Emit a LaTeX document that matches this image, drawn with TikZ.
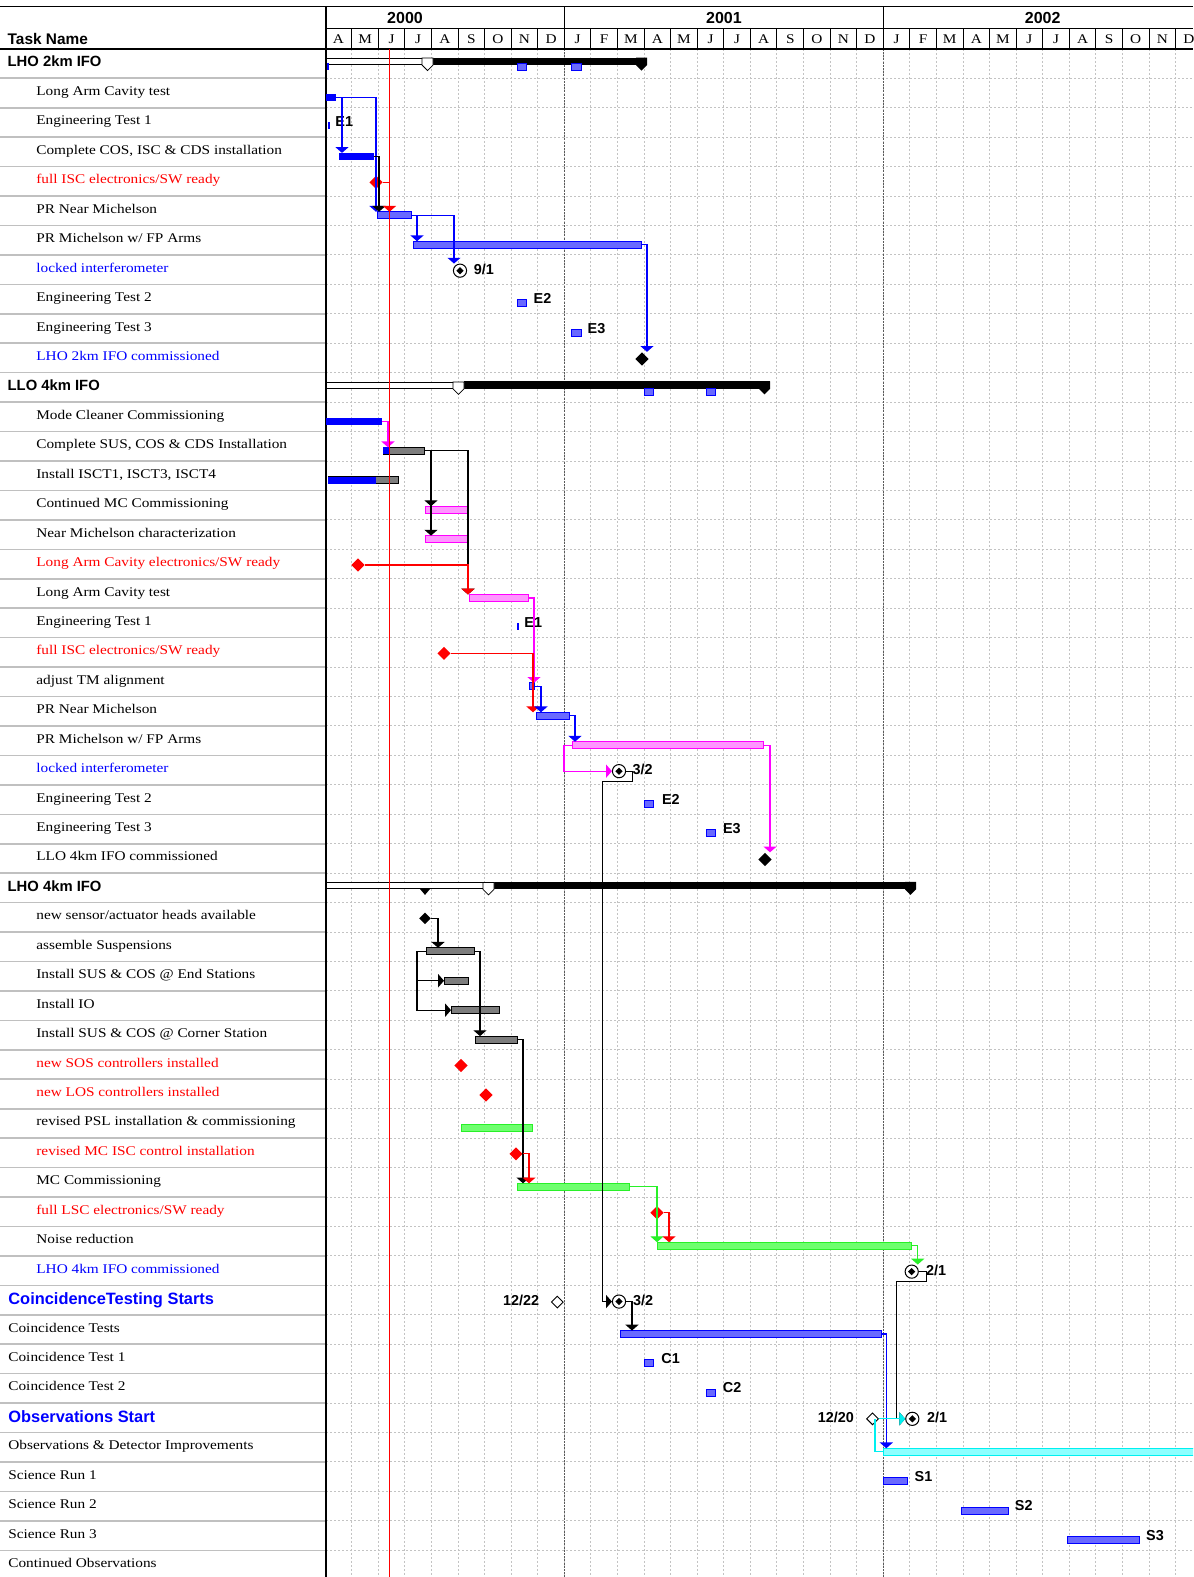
\documentclass[tikz,border=0pt]{standalone}
\usepackage{fontspec}
\setmainfont{Liberation Serif}[FakeStretch=1.15]
\setsansfont{Liberation Sans}
\usetikzlibrary{arrows.meta,shapes.geometric}
\definecolor{hbluef}{RGB}{105,105,255}
\definecolor{hgreyf}{RGB}{125,125,125}
\definecolor{hpinkf}{RGB}{255,150,255}
\definecolor{hgreenf}{RGB}{110,255,110}
\definecolor{hcyanf}{RGB}{140,255,255}
\definecolor{mag}{RGB}{255,0,255}
\definecolor{grn}{RGB}{40,240,40}
\definecolor{cyn}{RGB}{0,240,240}
\definecolor{gridc}{RGB}{195,195,195}
\definecolor{sepc}{RGB}{192,192,192}
\definecolor{yearc}{RGB}{90,90,90}
\newcommand\mySer{\fontsize{6.65pt}{8pt}\selectfont}
\newcommand\mySum{\sffamily\bfseries\fontsize{7.4pt}{9pt}\selectfont}
\newcommand\myBig{\sffamily\bfseries\fontsize{8.2pt}{10pt}\selectfont}
\newcommand\myLab{\sffamily\bfseries\fontsize{7.2pt}{9pt}\selectfont}
\newcommand\myHead{\sffamily\bfseries\fontsize{7.7pt}{9pt}\selectfont}
\newcommand\myYear{\sffamily\bfseries\fontsize{8pt}{9pt}\selectfont}
\tikzset{
 declare function={ry(\i)=34.14+29.44*\i;},
 sblue/.style={fill=blue, draw=none},
 hblue/.style={fill=hbluef, draw=blue, line width=0.5pt},
 hgrey/.style={fill=hgreyf, draw=black, line width=0.5pt},
 hpink/.style={fill=hpinkf, draw=mag, line width=0.5pt},
 hgreen/.style={fill=hgreenf, draw=grn, line width=0.5pt},
 hcyan/.style={fill=hcyanf, draw=cyn, line width=0.5pt},
 msd/.style={diamond, aspect=1, inner sep=0pt, minimum size=6.75pt, draw=none},
 mscirc/.style={circle, draw=black, fill=white, line width=0.5pt, inner sep=0pt, minimum size=6.6pt},
 msin/.style={diamond, aspect=1, fill=black, inner sep=0pt, minimum size=3.8pt},
 msw/.style={diamond, aspect=1, draw=black, fill=white, line width=0.45pt, inner sep=0pt, minimum size=6pt},
 con/.style={line width=0.6pt, -{Triangle[length=2.9pt,width=6.5pt]}},
 conn/.style={line width=0.6pt},
 tind/.style={anchor=base west, inner sep=0pt, font=\mySer},
 tsum/.style={anchor=base west, inner sep=0pt, font=\mySum},
 tbig/.style={anchor=base west, inner sep=0pt, font=\myBig, text=blue},
 lab/.style={anchor=base west, inner sep=0pt, font=\myLab},
 gridl/.style={gridc, line width=0.5pt, dash pattern=on 1pt off 1pt},
}
\newcommand\ganttbar[5]{\node[#5,anchor=north west,minimum width={(#3-#2)*0.5pt},minimum height=3.5pt,inner sep=0pt,outer sep=0pt] (#1) at (#2,{#4}) {};}
\newcommand\circms[3]{\node[mscirc] (#1) at (#2,{#3}) {};\node[msin] (#1i) at (#1) {};}
\newcommand\summbar[4]{%
 \pgfmathsetmacro\cy{ry(#1)}%
 \node[draw=black, fill=white, line width=0.4pt, anchor=north west, inner sep=0pt, outer sep=0pt, minimum width={(#2-326)*0.5pt}, minimum height=3pt] (#4w) at (326,{\cy-5.5}) {};
 \node[fill=black, anchor=north west, inner sep=0pt, outer sep=0pt, minimum width={(#3-#2-11)*0.5pt}, minimum height=3.75pt] (#4b) at ({#2+11},{\cy-6}) {};
 \draw[fill=white, line width=0.4pt] (#2,{\cy-5.5}) -- ({#2+11},{\cy-5.5}) -- ({#2+11},{\cy+1.5}) -- ({#2+5.5},{\cy+7}) -- (#2,{\cy+1.5}) -- cycle;
 \fill ({#3-11},{\cy-6}) -- (#3,{\cy-6}) -- (#3,{\cy+1.5}) -- ({#3-5.5},{\cy+7}) -- ({#3-11},{\cy+1.5}) -- cycle;
}
\begin{document}
\begin{tikzpicture}[x=0.5pt,y=-0.5pt]
\clip (0,0) rectangle (1193,1577);
\fill[white] (0,0) rectangle (1193,1577);
% grid
\foreach \k in {1,...,32}{\draw[gridl] ({325.2+26.575*\k},48.9) -- ({325.2+26.575*\k},1577);}
\foreach \i in {1,...,52}{
  \draw[gridl] (326,{48.86+29.44*\i}) -- (1193,{48.86+29.44*\i});
  \draw[sepc, line width=0.8pt] (0,{48.86+29.44*\i}) -- (326,{48.86+29.44*\i});}
\draw[yearc, line width=0.6pt, dash pattern=on 1pt off 0.6pt] (564.4,48.9) -- (564.4,1577);
\draw[yearc, line width=0.6pt, dash pattern=on 1pt off 0.6pt] (883.3,48.9) -- (883.3,1577);
% header
\draw[line width=0.9pt] (0,6.6) -- (1193,6.6);
\draw[line width=0.6pt] (326,28.7) -- (1193,28.7);
\foreach \k in {1,...,32}{\draw[line width=0.5pt] ({325.2+26.575*\k},28.7) -- ({325.2+26.575*\k},48.9);}
\draw[line width=0.7pt] (564.4,6.6) -- (564.4,48.9);
\draw[line width=0.7pt] (883.3,6.6) -- (883.3,48.9);
\draw[line width=1pt] (0,48.9) -- (1193,48.9);
\draw[line width=1pt] (326,6.6) -- (326,1577);
\foreach \l [count=\k from 0] in {A,M,J,J,A,S,O,N,D,J,F,M,A,M,J,J,A,S,O,N,D,J,F,M,A,M,J,J,A,S,O,N,D}
  {\node[anchor=base, inner sep=0pt, font=\mySer] (mo\k) at ({325.2+26.575*(\k+0.5)},43.5) {\l};}
\node[anchor=base, inner sep=0pt, font=\myYear] (y0) at (405,23.8) {2000};
\node[anchor=base, inner sep=0pt, font=\myYear] (y1) at (723.9,23.8) {2001};
\node[anchor=base, inner sep=0pt, font=\myYear] (y2) at (1042.7,23.8) {2002};
\node[anchor=base west, inner sep=0pt, font=\myHead] (th) at (7.3,44.5) {Task Name};
% task names
\node[tsum] (t1) at (7.3,{ry(1)+3.3}) {LHO 2km IFO};
\node[tind] (t2) at (36,{ry(2)+2.5}) {Long Arm Cavity test};
\node[tind] (t3) at (36,{ry(3)+2.5}) {Engineering Test 1};
\node[tind] (t4) at (36,{ry(4)+2.5}) {Complete COS, ISC \& CDS installation};
\node[tind,text=red] (t5) at (36,{ry(5)+2.5}) {full ISC electronics/SW ready};
\node[tind] (t6) at (36,{ry(6)+2.5}) {PR Near Michelson};
\node[tind] (t7) at (36,{ry(7)+2.5}) {PR Michelson w/ FP Arms};
\node[tind,text=blue] (t8) at (36,{ry(8)+2.5}) {locked interferometer};
\node[tind] (t9) at (36,{ry(9)+2.5}) {Engineering Test 2};
\node[tind] (t10) at (36,{ry(10)+2.5}) {Engineering Test 3};
\node[tind,text=blue] (t11) at (36,{ry(11)+2.5}) {LHO 2km IFO commissioned};
\node[tsum] (t12) at (7.3,{ry(12)+3.3}) {LLO 4km IFO};
\node[tind] (t13) at (36,{ry(13)+2.5}) {Mode Cleaner Commissioning};
\node[tind] (t14) at (36,{ry(14)+2.5}) {Complete SUS, COS \& CDS Installation};
\node[tind] (t15) at (36,{ry(15)+2.5}) {Install ISCT1, ISCT3, ISCT4};
\node[tind] (t16) at (36,{ry(16)+2.5}) {Continued MC Commissioning};
\node[tind] (t17) at (36,{ry(17)+2.5}) {Near Michelson characterization};
\node[tind,text=red] (t18) at (36,{ry(18)+2.5}) {Long Arm Cavity electronics/SW ready};
\node[tind] (t19) at (36,{ry(19)+2.5}) {Long Arm Cavity test};
\node[tind] (t20) at (36,{ry(20)+2.5}) {Engineering Test 1};
\node[tind,text=red] (t21) at (36,{ry(21)+2.5}) {full ISC electronics/SW ready};
\node[tind] (t22) at (36,{ry(22)+2.5}) {adjust TM alignment};
\node[tind] (t23) at (36,{ry(23)+2.5}) {PR Near Michelson};
\node[tind] (t24) at (36,{ry(24)+2.5}) {PR Michelson w/ FP Arms};
\node[tind,text=blue] (t25) at (36,{ry(25)+2.5}) {locked interferometer};
\node[tind] (t26) at (36,{ry(26)+2.5}) {Engineering Test 2};
\node[tind] (t27) at (36,{ry(27)+2.5}) {Engineering Test 3};
\node[tind] (t28) at (36,{ry(28)+2.5}) {LLO 4km IFO commissioned};
\node[tsum] (t29) at (7.3,{ry(29)+3.3}) {LHO 4km IFO};
\node[tind] (t30) at (36,{ry(30)+2.5}) {new sensor/actuator heads available};
\node[tind] (t31) at (36,{ry(31)+2.5}) {assemble Suspensions};
\node[tind] (t32) at (36,{ry(32)+2.5}) {Install SUS \& COS @ End Stations};
\node[tind] (t33) at (36,{ry(33)+2.5}) {Install IO};
\node[tind] (t34) at (36,{ry(34)+2.5}) {Install SUS \& COS @ Corner Station};
\node[tind,text=red] (t35) at (36,{ry(35)+2.5}) {new SOS controllers installed};
\node[tind,text=red] (t36) at (36,{ry(36)+2.5}) {new LOS controllers installed};
\node[tind] (t37) at (36,{ry(37)+2.5}) {revised PSL installation \& commissioning};
\node[tind,text=red] (t38) at (36,{ry(38)+2.5}) {revised MC ISC control installation};
\node[tind] (t39) at (36,{ry(39)+2.5}) {MC Commissioning};
\node[tind,text=red] (t40) at (36,{ry(40)+2.5}) {full LSC electronics/SW ready};
\node[tind] (t41) at (36,{ry(41)+2.5}) {Noise reduction};
\node[tind,text=blue] (t42) at (36,{ry(42)+2.5}) {LHO 4km IFO commissioned};
\node[tbig] (t43) at (8,{ry(43)+4.2}) {CoincidenceTesting Starts};
\node[tind] (t44) at (8,{ry(44)+2.5}) {Coincidence Tests};
\node[tind] (t45) at (8,{ry(45)+2.5}) {Coincidence Test 1};
\node[tind] (t46) at (8,{ry(46)+2.5}) {Coincidence Test 2};
\node[tbig] (t47) at (8,{ry(47)+4.2}) {Observations Start};
\node[tind] (t48) at (8,{ry(48)+2.5}) {Observations \& Detector Improvements};
\node[tind] (t49) at (8,{ry(49)+2.5}) {Science Run 1};
\node[tind] (t50) at (8,{ry(50)+2.5}) {Science Run 2};
\node[tind] (t51) at (8,{ry(51)+2.5}) {Science Run 3};
\node[tind] (t52) at (8,{ry(52)+2.5}) {Continued Observations};
% summary bars
\summbar{1}{422}{647}{s1}
\summbar{12}{453}{770}{s12}
\summbar{29}{483}{916}{s29}
\ganttbar{r1a}{327}{329}{ry(1)-0.5}{sblue}
\ganttbar{r1b}{517}{526}{ry(1)-0.5}{hblue}
\ganttbar{r1c}{571}{581}{ry(1)-0.5}{hblue}
\ganttbar{r12a}{644}{653}{ry(12)+1}{hblue}
\ganttbar{r12b}{706}{715}{ry(12)+1}{hblue}
\fill ({419.5},{ry(29)+0.5}) -- (430.5,{ry(29)+0.5}) -- (425,{ry(29)+7}) -- cycle;
% bars
\ganttbar{b2}{326}{336}{ry(2)+1}{sblue}
\ganttbar{b3}{328}{330}{ry(3)-0.5}{sblue}
\ganttbar{b4}{339}{374}{ry(4)+1}{sblue}
\ganttbar{b6}{377}{411}{ry(6)+1}{hblue}
\ganttbar{b7}{413}{641}{ry(7)+1}{hblue}
\ganttbar{b9}{517}{526}{ry(9)+0.5}{hblue}
\ganttbar{b10}{571}{581}{ry(10)+0.5}{hblue}
\ganttbar{b13}{326}{382}{ry(13)+1}{sblue}
\ganttbar{b14}{383}{424}{ry(14)+1}{hgrey}
\ganttbar{b14p}{383}{389}{ry(14)+1}{sblue}
\ganttbar{b15}{328}{398}{ry(15)+1}{hgrey}
\ganttbar{b15p}{328}{376}{ry(15)+1}{sblue}
\ganttbar{b16}{425}{467}{ry(16)+1}{hpink}
\ganttbar{b17}{425}{467}{ry(17)+1}{hpink}
\ganttbar{b19}{469}{528}{ry(19)+1}{hpink}
\ganttbar{b20}{517}{518.5}{ry(20)+0.5}{sblue}
\ganttbar{b22}{529}{534}{ry(22)+1}{hblue}
\ganttbar{b23}{536}{569}{ry(23)+1}{hblue}
\ganttbar{b24}{572}{763}{ry(24)+1}{hpink}
\ganttbar{b26}{644}{653}{ry(26)+0.5}{hblue}
\ganttbar{b27}{706}{715}{ry(27)+0.5}{hblue}
\ganttbar{b31}{426}{474}{ry(31)+1}{hgrey}
\ganttbar{b32}{444}{468}{ry(32)+1}{hgrey}
\ganttbar{b33}{451}{499}{ry(33)+1}{hgrey}
\ganttbar{b34}{475}{517}{ry(34)+1}{hgrey}
\ganttbar{b37}{461}{532}{ry(37)+1}{hgreen}
\ganttbar{b39}{517}{629}{ry(39)+1}{hgreen}
\ganttbar{b41}{657}{911}{ry(41)+1}{hgreen}
\ganttbar{b44}{620}{881}{ry(44)+1}{hblue}
\ganttbar{b45}{644}{653}{ry(45)+1}{hblue}
\ganttbar{b46}{706}{715}{ry(46)+1}{hblue}
\ganttbar{b48}{883.3}{1205}{ry(48)+1}{hcyan}
\ganttbar{b49}{883}{907}{ry(49)+1}{hblue}
\ganttbar{b50}{961}{1008}{ry(50)+1}{hblue}
\ganttbar{b51}{1067}{1139}{ry(51)+1}{hblue}
% milestones
\node[msd,fill=red] (m5) at (376,{ry(5)+1}) {};
\circms{m8}{460}{ry(8)+1}
\node[msd,fill=black] (m11) at (642,{ry(11)+1}) {};
\node[msd,fill=red] (m18) at (358,{ry(18)+1}) {};
\node[msd,fill=red] (m21) at (444,{ry(21)+1}) {};
\circms{m25}{619}{ry(25)+1}
\node[msd,fill=black] (m28) at (765,{ry(28)+1}) {};
\node[msd,fill=black,minimum size=6pt] (m30) at (425,{ry(30)+1}) {};
\node[msd,fill=red] (m35) at (461,{ry(35)+1}) {};
\node[msd,fill=red] (m36) at (486,{ry(36)+1}) {};
\node[msd,fill=red] (m38) at (516,{ry(38)+1}) {};
\node[msd,fill=red] (m40) at (657,{ry(40)+1}) {};
\circms{m42}{911.7}{ry(42)+1}
\node[msw] (d43) at (557.3,{ry(43)+2}) {};
\circms{m43}{619}{ry(43)+1.5}
\node[msw] (d47) at (872.5,{ry(47)+1}) {};
\circms{m47}{912.3}{ry(47)+1}
% labels
\node[lab] (l3) at (335,{ry(3)+4.5}) {E1};
\node[lab] (l8) at (473.5,{ry(8)+4.5}) {9/1};
\node[lab] (l9) at (533.3,{ry(9)+4.5}) {E2};
\node[lab] (l10) at (587.3,{ry(10)+4.5}) {E3};
\node[lab] (l20) at (524,{ry(20)+4.5}) {E1};
\node[lab] (l25) at (632.3,{ry(25)+4.5}) {3/2};
\node[lab] (l26) at (661.7,{ry(26)+4.5}) {E2};
\node[lab] (l27) at (722.7,{ry(27)+4.5}) {E3};
\node[lab] (l42) at (925.7,{ry(42)+4.5}) {2/1};
\node[lab] (l43a) at (502.7,{ry(43)+5}) {12/22};
\node[lab] (l43b) at (632.7,{ry(43)+5}) {3/2};
\node[lab] (l45) at (661,{ry(45)+4.5}) {C1};
\node[lab] (l46) at (722.5,{ry(46)+4.5}) {C2};
\node[lab] (l47a) at (817.5,{ry(47)+4.5}) {12/20};
\node[lab] (l47b) at (926.7,{ry(47)+4.5}) {2/1};
\node[lab] (l49) at (914.3,{ry(49)+4.5}) {S1};
\node[lab] (l50) at (1014.5,{ry(50)+4.5}) {S2};
\node[lab] (l51) at (1145.8,{ry(51)+4.5}) {S3};
% connectors LHO 2km
\draw[con,blue] (b2.east) -| ([xshift=1.5pt]b4.north west);
\draw[con,blue] (b2.east) -| ([xshift=-0.5pt]b6.north west);
\draw[con,black] (b4.east) -| ([xshift=1pt]b6.north west);
\draw[con,red] (m5.east) -| ([xshift=6.25pt]b6.north west);
\draw[con,blue] (b6.east) -| ([xshift=2pt]b7.north west);
\draw[con,blue] (b6.east) -| ([xshift=-3pt]m8.north);
\draw[con,blue] (b7.east) -| ([xshift=2.5pt]m11.north);
% LLO 4km
\draw[con,mag] (b13.east) -| ([xshift=2.5pt]b14.north west);
\draw[con] (b14.east) -| ([xshift=3pt]b16.north west);
\draw[con] (b14.east) -| ([xshift=3pt]b17.north west);
\draw[con] (b14.east) -| ([xshift=-0.5pt]b19.north west);
\draw[con,red] (m18.east) -| ([xshift=-0.5pt]b19.north west);
\draw[con,mag] (b19.east) -| ([xshift=2.5pt]b22.north west);
\draw[con,red] (m21.east) -| ([xshift=-1.5pt]b23.north west);
\draw[con,blue] (b22.east) -| ([xshift=2.5pt]b23.north west);
\draw[con,blue] (b23.east) -| ([xshift=1.5pt]b24.north west);
\draw[con,mag] (b24.east) -| ([xshift=2.5pt]m28.north);
\draw[con,mag] (b24.west) -- ++(-4pt,0) |- (m25.west);
\draw[con] (m25.east) -- ++(3.25pt,0) -- ++(0,-5pt) -- ++(-15pt,0) |- (m43.west);
% LHO 4km
\draw[con] (m30.east) -| ([xshift=6pt]b31.north west);
\draw[con] (b31.west) -- ++(-4.5pt,0) |- (b32.west);
\draw[con] (b31.west) -- ++(-4.5pt,0) |- (b33.west);
\draw[con] (b31.east) -| ([xshift=2.5pt]b34.north west);
\draw[con] (b34.east) -| ([xshift=3pt]b39.north west);
\draw[con,red] (m38.east) -| ([xshift=6pt]b39.north west);
\draw[con,grn] (b39.east) -| (b41.north west);
\draw[con,red] (m40.east) -| ([xshift=6pt]b41.north west);
\draw[con,grn] (b41.east) -| ([xshift=3pt]m42.north);
\draw[con] (m42.east) -- ++(3.75pt,0) -- ++(0,-5pt) -- ++(-15pt,0) |- (m47.west);
\draw[con] (m43.east) -| ([xshift=6pt]b44.north west);
\draw[con,blue] (b44.east) -| ([xshift=1.5pt]b48.north west);
\draw[con,cyn] (d47.east) -- (m47.west);
\draw[conn,cyn] ([xshift=1.25pt]d47.center) |- (b48.west);
% status date line
\draw[red, line width=0.6pt] (389.5,48.9) -- (389.5,1577);
\end{tikzpicture}
\end{document}
